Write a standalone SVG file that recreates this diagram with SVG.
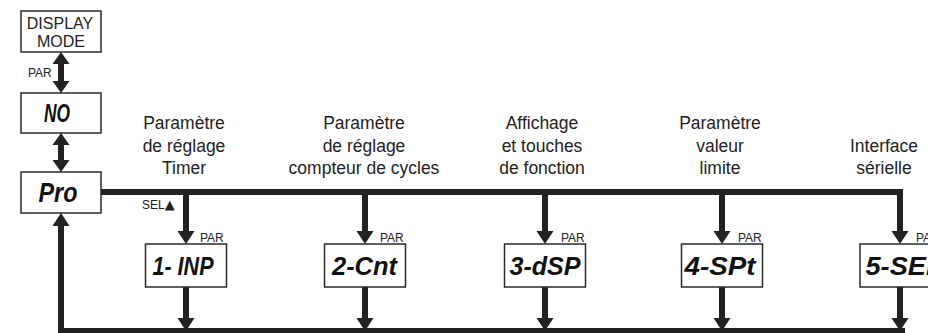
<svg xmlns="http://www.w3.org/2000/svg" width="928" height="333" viewBox="0 0 928 333">
<style>
.box{fill:#fff;stroke:#2a2a2a;stroke-width:1.5}
.line{stroke:#222;stroke-width:6;fill:none;stroke-linejoin:miter}
.head{fill:#222}
.lbl{font-family:"Liberation Sans",Arial,sans-serif;font-size:17.5px;fill:#222;text-anchor:middle}
.dm{font-family:"Liberation Sans",Arial,sans-serif;font-size:16px;fill:#222;text-anchor:middle}
.par{font-family:"Liberation Sans","DejaVu Sans",Arial,sans-serif;font-size:12px;fill:#222}
.lcd{font-family:"Liberation Sans",Arial,sans-serif;font-weight:bold;font-style:italic;fill:#111;text-anchor:middle}
</style>
<rect width="928" height="333" fill="#fff"/>
<g id="connectors">
  <path class="line" d="M61 62 V83"/>
  <polygon class="head" points="61,52 52.5,64 69.5,64"/>
  <polygon class="head" points="61,93 52.5,81 69.5,81"/>
  <path class="line" d="M61 143 V162"/>
  <polygon class="head" points="61,133 52.5,145 69.5,145"/>
  <polygon class="head" points="61,172 52.5,160 69.5,160"/>
  <path class="line" d="M101 192 H900 V233"/>
  <polygon class="head" points="891.5,231 908.5,231 900,244"/>
  <path class="line" d="M186 192 V233"/>
  <polygon class="head" points="177.5,231 194.5,231 186,244"/>
  <path class="line" d="M365 192 V233"/>
  <polygon class="head" points="356.5,231 373.5,231 365,244"/>
  <path class="line" d="M545 192 V233"/>
  <polygon class="head" points="536.5,231 553.5,231 545,244"/>
  <path class="line" d="M722 192 V233"/>
  <polygon class="head" points="713.5,231 730.5,231 722,244"/>
  <path class="line" d="M186 287 V320"/>
  <polygon class="head" points="177.5,318 194.5,318 186,331"/>
  <path class="line" d="M365 287 V320"/>
  <polygon class="head" points="356.5,318 373.5,318 365,331"/>
  <path class="line" d="M545 287 V320"/>
  <polygon class="head" points="536.5,318 553.5,318 545,331"/>
  <path class="line" d="M722 287 V320"/>
  <polygon class="head" points="713.5,318 730.5,318 722,331"/>
  <path class="line" d="M900 287 V320"/>
  <polygon class="head" points="891.5,318 908.5,318 900,331"/>
  <path class="line" d="M905 331 H61 V224"/>
  <polygon class="head" points="61,213 52.5,226 69.5,226"/>
  <text class="par" x="28" y="77">PAR</text>
  <text class="par" x="142" y="209">SEL<tspan font-family="DejaVu Sans,sans-serif" font-size="13">▲</tspan></text>
  <text class="par" x="200" y="242">PAR</text>
  <text class="par" x="380" y="242">PAR</text>
  <text class="par" x="561" y="242">PAR</text>
  <text class="par" x="738" y="242">PAR</text>
  <text class="par" x="916" y="242">PAR</text>
</g>
<g id="display-mode">
  <rect class="box" x="21" y="11" width="80" height="41"/>
  <text class="dm" x="60" y="29">DISPLAY</text>
  <text class="dm" x="61" y="47">MODE</text>
</g>
<g id="no">
  <rect class="box" x="21" y="93" width="80" height="40"/>
  <text class="lcd" x="57" y="122" font-size="26" textLength="26" lengthAdjust="spacingAndGlyphs">NO</text>
</g>
<g id="pro">
  <rect class="box" x="21" y="172" width="80" height="41"/>
  <text class="lcd" x="58" y="202" font-size="28" textLength="39" lengthAdjust="spacingAndGlyphs">Pro</text>
</g>
<g id="n1">
  <text class="lbl" x="184" y="129">Paramètre</text>
  <text class="lbl" x="184" y="151.5">de réglage</text>
  <text class="lbl" x="184" y="174">Timer</text>
  <rect class="box" x="145.5" y="244" width="81" height="43"/>
  <text class="lcd" x="183" y="275" font-size="25" textLength="61" lengthAdjust="spacingAndGlyphs">1- INP</text>
</g>
<g id="n2">
  <text class="lbl" x="364" y="129">Paramètre</text>
  <text class="lbl" x="364" y="151.5">de réglage</text>
  <text class="lbl" x="364" y="174">compteur de cycles</text>
  <rect class="box" x="324.5" y="244" width="81" height="43"/>
  <text class="lcd" x="364.5" y="275" font-size="25" textLength="65" lengthAdjust="spacingAndGlyphs">2-Cnt</text>
</g>
<g id="n3">
  <text class="lbl" x="542" y="129">Affichage</text>
  <text class="lbl" x="542" y="151.5">et touches</text>
  <text class="lbl" x="542" y="174">de fonction</text>
  <rect class="box" x="504.5" y="244" width="81" height="43"/>
  <text class="lcd" x="545" y="275" font-size="25" textLength="71" lengthAdjust="spacingAndGlyphs">3-dSP</text>
</g>
<g id="n4">
  <text class="lbl" x="720" y="129">Paramètre</text>
  <text class="lbl" x="720" y="151.5">valeur</text>
  <text class="lbl" x="720" y="174">limite</text>
  <rect class="box" x="681.5" y="244" width="81" height="43"/>
  <text class="lcd" x="720" y="275" font-size="25" textLength="71" lengthAdjust="spacingAndGlyphs">4-SPt</text>
</g>
<g id="n5">
  <text class="lbl" x="884" y="152">Interface</text>
  <text class="lbl" x="884" y="174">sérielle</text>
  <rect class="box" x="860" y="244" width="81" height="43"/>
  <text class="lcd" x="901" y="275" font-size="25" textLength="71" lengthAdjust="spacingAndGlyphs">5-SEr</text>
</g>
</svg>
